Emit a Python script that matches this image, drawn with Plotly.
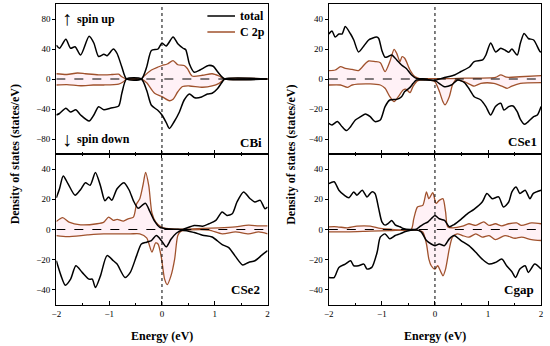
import plotly.graph_objects as go
from plotly.subplots import make_subplots

# ---------------- data (energy in eV, DOS in states/eV) ----------------
# CBi
cbi_tot_up_e = [-2.0,-1.94,-1.82,-1.73,-1.645,-1.54,-1.38,-1.29,-1.20,-1.10,-1.04,-0.92,-0.85,-0.76,-0.67,-0.39,-0.29,-0.20,-0.075,0.0,0.08,0.21,0.30,0.40,0.45,0.52,0.61,0.72,0.88,0.97,1.05,1.12,1.19,2.0]
cbi_tot_up = [45,41,53,41,43,32,57,48,30,33,31,40,34,16,0,0,16,38,40,48,44,56,47,41,39,20,9,12,18,17,10,4,0,0]
cbi_tot_dn_e = [-2.0,-1.94,-1.82,-1.73,-1.63,-1.54,-1.38,-1.29,-1.20,-1.10,-0.98,-0.82,-0.76,-0.67,-0.39,-0.29,-0.20,-0.075,0.0,0.08,0.14,0.23,0.33,0.42,0.52,0.62,0.75,0.86,0.95,1.05,1.13,1.19,2.0]
cbi_tot_dn = [-48,-46,-39,-44,-41,-48,-56,-48,-37,-41,-39,-36,-19,0,0,-15,-35,-42,-48,-58,-66,-57,-44,-28,-20,-25,-24,-20,-19,-13,-5,0,0]
cbi_c2p_up_e = [-2.0,-1.8,-1.6,-1.45,-1.2,-0.95,-0.82,-0.76,-0.67,-0.39,-0.36,-0.20,-0.075,0.0,0.1,0.21,0.30,0.42,0.48,0.57,0.77,0.95,1.08,1.19,2.0]
cbi_c2p_up = [7,6,8,7,5.5,6,6.5,3,0,0,2.5,12,16,18,20,24.5,19,18,14,4,5,7,4,0,0]
cbi_c2p_dn_e = [-2.0,-1.8,-1.54,-1.3,-1.10,-0.82,-0.73,-0.67,-0.39,-0.29,-0.14,0.0,0.14,0.21,0.30,0.39,0.52,0.77,0.95,1.08,1.19,2.0]
cbi_c2p_dn = [-8,-7.5,-9,-8,-8,-6.7,-3.6,0,0,-5,-19,-23.5,-29,-27,-17,-10,-9.3,-11,-9.3,-5.8,0,0]

# CSe1
cse1_tot_up_e = [-2.0,-1.94,-1.88,-1.81,-1.75,-1.69,-1.59,-1.53,-1.44,-1.34,-1.25,-1.19,-1.10,-1.06,-1.0,-0.94,-0.88,-0.815,-0.72,-0.63,-0.54,-0.44,-0.35,-0.23,-0.04,0.02,0.18,0.37,0.49,0.65,0.74,0.90,0.96,1.05,1.145,1.24,1.33,1.39,1.45,1.55,1.61,1.68,1.76,1.86,1.98,2.0]
cse1_tot_up = [30,32,28,30,30,35,30,26,18,22,26,27,28,27,19,14.5,15,16,12.7,9.3,7,2.7,0.4,0.2,-1,-0.7,1,2.7,5,8,11.6,12.7,16,24,18,20.5,19,17.8,20,16,24,30.4,27,26,18.2,18]
cse1_tot_dn_e = [-2.0,-1.94,-1.84,-1.75,-1.665,-1.59,-1.50,-1.40,-1.31,-1.22,-1.13,-1.03,-0.94,-0.85,-0.72,-0.63,-0.57,-0.47,-0.41,-0.35,-0.16,0.0,0.18,0.31,0.43,0.555,0.65,0.74,0.865,0.96,1.05,1.14,1.24,1.30,1.39,1.47,1.55,1.61,1.69,1.76,1.86,1.93,2.0]
cse1_tot_dn = [-29.6,-30.7,-28.4,-31.8,-34.4,-31.8,-27.3,-25.1,-23.3,-25.1,-28.4,-27.3,-18.4,-14,-13.6,-11.8,-8.4,-5.6,-2.9,-0.7,-0.7,-1.1,-5.1,-4,-0.7,-2.4,-6.9,-11.8,-14,-18.4,-24,-18.4,-16.2,-20.7,-18.4,-18,-21.8,-26.9,-30.2,-28.4,-25.1,-24,-18.4]
cse1_c2p_up_e = [-2.0,-1.88,-1.78,-1.69,-1.56,-1.44,-1.31,-1.25,-1.13,-1.03,-0.94,-0.85,-0.77,-0.72,-0.66,-0.62,-0.57,-0.47,-0.38,-0.29,0.0,0.27,0.55,1.14,1.24,1.35,1.6,2.0]
cse1_c2p_up = [5.6,6,8.2,7.1,6.4,5.6,10.4,12,11.6,10.9,4.9,11.6,19.8,17.1,11.6,14.9,13.8,6,1.6,0.3,0.3,0.3,0.6,1.1,2.8,1.2,1.5,2.2]
cse1_c2p_dn_e = [-2.0,-1.78,-1.65,-1.56,-1.22,-1.03,-0.94,-0.85,-0.77,-0.69,-0.60,-0.54,-0.47,-0.41,-0.32,-0.10,0.0,0.084,0.15,0.19,0.27,0.33,0.39,0.555,0.74,0.865,1.11,1.27,1.36,1.45,1.61,2.0]
cse1_c2p_dn = [-4,-4,-5.6,-4,-3.3,-4,-6.2,-11.8,-15.1,-11.8,-7.3,-6.9,-9.1,-4.7,-1.1,-0.7,-1.8,-8.4,-15.1,-17.3,-11.8,-4,-0.7,-1.8,-4.7,-2.9,-2.9,-4.9,-6.2,-4.7,-2.9,-2.4]

# CSe2
cse2_tot_up_e = [-2.0,-1.94,-1.87,-1.78,-1.645,-1.54,-1.45,-1.36,-1.26,-1.165,-1.08,-1.01,-0.95,-0.85,-0.72,-0.62,-0.54,-0.45,-0.36,-0.31,-0.23,-0.14,-0.04,0.02,0.14,0.27,0.39,0.61,0.77,0.89,1.02,1.14,1.23,1.33,1.42,1.545,1.67,1.76,1.86,1.95,2.0]
cse2_tot_up = [21,27,35.5,30.4,22.7,26.5,31,29.3,37.8,29,19,21.6,19.3,27,31,26,19,14,16.5,17.3,12,5.5,1.4,0.9,0.4,0.2,0,2.7,2.2,3.8,6,11.6,9.3,10.4,18.2,24.9,20.4,18.2,19.3,13.8,14.9]
cse2_tot_dn_e = [-2.0,-1.91,-1.83,-1.73,-1.63,-1.51,-1.38,-1.32,-1.26,-1.165,-1.04,-0.92,-0.85,-0.70,-0.60,-0.48,-0.39,-0.29,-0.20,-0.106,-0.012,0.08,0.17,0.27,0.38,0.61,0.77,0.95,1.14,1.265,1.39,1.53,1.64,1.76,1.89,2.0]
cse2_tot_dn = [-20.7,-30.7,-36.9,-32.9,-24,-28.4,-32.9,-32.9,-38.4,-30.7,-17.3,-20.7,-22.9,-31.8,-28.4,-17.3,-9.6,-8.4,-7.3,-4,-7.3,-11.5,-6.5,-2.5,-0.5,-2,-3.8,-5,-10,-12,-17.8,-23.5,-21.8,-20.7,-17,-14]
cse2_c2p_up_e = [-2.0,-1.88,-1.76,-1.54,-1.23,-1.10,-1.01,-0.92,-0.85,-0.73,-0.64,-0.54,-0.48,-0.42,-0.36,-0.31,-0.25,-0.19,-0.12,-0.02,0.08,0.39,0.77,1.08,1.39,1.64,1.83,2.0]
cse2_c2p_up = [5.3,7.8,4.9,3.1,3.8,4.9,8.2,6,6.7,5.6,7.1,8.2,17,20.4,29.3,37.8,29,11,5,1.8,0.7,0.2,0.7,1.1,1.8,2.9,2.4,2.4]
cse2_c2p_dn_e = [-2.0,-1.79,-1.41,-1.10,-0.60,-0.42,-0.29,-0.19,-0.12,-0.075,-0.012,0.05,0.10,0.17,0.24,0.30,0.36,0.52,0.89,1.14,1.39,1.64,1.83,2.0]
cse2_c2p_dn = [-4,-4.7,-3.6,-2.9,-2.9,-2.9,-5.5,-15,-8.9,-9.6,-18.4,-32.9,-36.5,-30.7,-19.6,-4,-1.1,-0.3,-0.4,-2.9,-1.6,-2.9,-1.6,-2.9]

# Cgap
cgap_tot_up_e = [-2.0,-1.90,-1.81,-1.71,-1.62,-1.53,-1.47,-1.37,-1.28,-1.19,-1.13,-1.06,-1.0,-0.94,-0.88,-0.815,-0.75,-0.66,-0.60,-0.47,-0.35,-0.29,-0.23,-0.13,-0.07,0.0,0.08,0.18,0.27,0.36,0.49,0.61,0.735,0.89,0.98,1.08,1.20,1.29,1.39,1.45,1.53,1.60,1.70,1.79,1.85,2.0]
cgap_tot_up = [30.4,31.6,26,22.7,21,24.9,22.7,26,21.6,24.9,23.8,13.8,5.1,2.9,4,6,3.1,1.8,0.7,0,0.2,1.8,3.3,5.1,7.1,9.3,7.1,6,1.8,3.3,6.7,10.4,13.3,18.2,23.8,20.4,21.6,14.9,18.2,24.9,28.2,23.8,26,20.4,23.8,26]
cgap_tot_dn_e = [-2.0,-1.90,-1.81,-1.69,-1.59,-1.53,-1.44,-1.34,-1.28,-1.19,-1.09,-1.03,-0.94,-0.85,-0.75,-0.66,-0.54,-0.35,-0.26,-0.16,-0.07,0.0,0.08,0.18,0.27,0.36,0.49,0.64,0.77,0.89,1.02,1.14,1.26,1.35,1.45,1.52,1.60,1.70,1.76,1.88,2.0]
cgap_tot_dn = [-31.8,-31.8,-25.1,-22.9,-20.7,-24,-24,-22.9,-26.2,-25.1,-15.1,-5.1,-2.9,-6.2,-4,-2.9,-1.1,-0.4,-1.6,-7.3,-9.6,-10.7,-9.6,-10.7,-6.2,-4,-7.3,-10.7,-15.1,-19.6,-22.9,-21.8,-19.6,-24,-28,-31.8,-26.2,-24,-28.4,-22.9,-26.2]
cgap_c2p_up_e = [-2.0,-1.84,-1.65,-1.47,-1.22,-1.03,-0.85,-0.45,-0.40,-0.33,-0.23,-0.16,-0.115,-0.04,0.02,0.08,0.15,0.20,0.24,0.33,0.52,0.64,0.77,0.92,1.02,1.14,1.26,1.39,1.54,1.63,1.82,2.0]
cgap_c2p_up = [1.8,1.8,1.1,2.2,2.2,0.7,0.2,0,7,14.9,16,24.9,20.4,24.4,17.3,19.3,20.4,11.6,1.8,1.1,2.2,3.8,2.7,5.1,2.7,3.8,2.4,3.8,4.4,2.7,4.4,3.8]
cgap_c2p_dn_e = [-2.0,-1.65,-1.22,-0.85,-0.35,-0.23,-0.16,-0.115,-0.07,0.0,0.05,0.115,0.15,0.20,0.27,0.33,0.42,0.52,0.64,0.77,0.89,1.02,1.14,1.32,1.51,1.63,1.82,2.0]
cgap_c2p_dn = [-1.6,-1.6,-1.1,-0.7,-0.4,-1.6,-9.6,-19.6,-24,-26.2,-24,-28.4,-30.7,-26.2,-12.9,-5.1,-2.9,-4,-5.1,-2.9,-5.1,-4,-6.7,-4,-5.8,-5.1,-6.7,-7.3]

panel_names = ["CBi", "CSe1", "CSe2", "Cgap"]
legend_names = ["total", "C 2p"]
y_ranges = [[-100, 100], [-50, 50], [-50, 50], [-50, 50]]
y_ticks = [[-80, -40, 0, 40, 80], [-40, -20, 0, 20, 40], [-40, -20, 0, 20, 40], [-40, -20, 0, 20, 40]]
x_ticks = [-2, -1, 0, 1, 2]

panels = [
    (cbi_tot_up_e, cbi_tot_up, cbi_tot_dn_e, cbi_tot_dn, cbi_c2p_up_e, cbi_c2p_up, cbi_c2p_dn_e, cbi_c2p_dn),
    (cse1_tot_up_e, cse1_tot_up, cse1_tot_dn_e, cse1_tot_dn, cse1_c2p_up_e, cse1_c2p_up, cse1_c2p_dn_e, cse1_c2p_dn),
    (cse2_tot_up_e, cse2_tot_up, cse2_tot_dn_e, cse2_tot_dn, cse2_c2p_up_e, cse2_c2p_up, cse2_c2p_dn_e, cse2_c2p_dn),
    (cgap_tot_up_e, cgap_tot_up, cgap_tot_dn_e, cgap_tot_dn, cgap_c2p_up_e, cgap_c2p_up, cgap_c2p_dn_e, cgap_c2p_dn),
]

# ---------------- style ----------------
FONT = "Liberation Serif, Times New Roman, serif"
BLACK = "#000000"
BROWN = "#A0522D"
PINK = "rgba(255,170,200,0.16)"
W, H = 550, 346

fig = make_subplots(rows=2, cols=2)

positions = [(1, 1), (1, 2), (2, 1), (2, 2)]
for i, (p, (r, c)) in enumerate(zip(panels, positions)):
    tu_e, tu, td_e, td, cu_e, cu, cd_e, cd = p
    for e, v in ((cu_e, cu), (cd_e, cd)):
        fig.add_trace(go.Scatter(x=e, y=v, mode="lines", fill="tozeroy", fillcolor=PINK,
                                 line=dict(color=BROWN, width=1.3, shape="spline", smoothing=0.7),
                                 name=legend_names[1], showlegend=False), row=r, col=c)
    for e, v in ((tu_e, tu), (td_e, td)):
        fig.add_trace(go.Scatter(x=e, y=v, mode="lines",
                                 line=dict(color=BLACK, width=1.5, shape="spline", smoothing=0.7),
                                 name=legend_names[0], showlegend=False), row=r, col=c)

def px_x(a, b):
    return [a / W, b / W]

def px_y(top, bottom):
    return [1 - bottom / H, 1 - top / H]

xdoms = [px_x(52, 266), px_x(328, 543), px_x(52, 266), px_x(328, 543)]
ydoms = [px_y(4, 154), px_y(4, 154), px_y(154, 305), px_y(154, 305)]

for i in range(4):
    sx = "" if i == 0 else str(i + 1)
    bottom = i >= 2
    fig.layout["xaxis" + sx].update(
        domain=xdoms[i], range=[-2, 2], tickvals=x_ticks, showticklabels=bottom,
        ticks="inside", ticklen=4, tickwidth=1, tickcolor=BLACK,
        minor=dict(dtick=0.5, ticks="inside", ticklen=2, tickcolor=BLACK),
        showline=True, linecolor=BLACK, linewidth=1.3, mirror="ticks" if bottom else True,
        showgrid=False, zeroline=False,
        tickfont=dict(family=FONT, size=9, color=BLACK))
    fig.layout["yaxis" + sx].update(
        domain=ydoms[i], range=y_ranges[i], tickvals=y_ticks[i],
        ticks="outside", ticklen=3, tickwidth=1, tickcolor=BLACK,
        showline=True, linecolor=BLACK, linewidth=1.3, mirror=True,
        showgrid=False, zeroline=False,
        tickfont=dict(family=FONT, size=9, color=BLACK))
    xr = "x" + sx
    yr = "y" + sx
    fig.add_shape(type="line", xref=xr, yref=yr, x0=-2, x1=2, y0=0, y1=0,
                  line=dict(color=BLACK, width=1, dash="dash"), layer="above")
    fig.add_shape(type="line", xref=xr, yref=yr + " domain", x0=0, x1=0, y0=0, y1=1,
                  line=dict(color=BLACK, width=1, dash="dot"), layer="above")

# panel labels
label_pos = [(0.985, 0.08), (0.99, 0.085), (0.975, 0.105), (0.975, 0.10)]
for i, name in enumerate(panel_names):
    sx = "" if i == 0 else str(i + 1)
    fig.add_annotation(text="<b>" + name + "</b>", xref="x" + sx + " domain", yref="y" + sx + " domain",
                       x=label_pos[i][0], y=label_pos[i][1], xanchor="right", yanchor="middle",
                       showarrow=False, font=dict(family=FONT, size=13, color=BLACK))

# manual legend (top-left panel)
for name, color, ypx in ((legend_names[0], BLACK, 16), (legend_names[1], BROWN, 32)):
    fig.add_shape(type="line", xref="paper", yref="paper", x0=205 / W, x1=233 / W,
                  y0=1 - ypx / H, y1=1 - ypx / H, line=dict(color=color, width=1.5))
    fig.add_annotation(text="<b>" + name + "</b>", xref="paper", yref="paper",
                       x=236 / W, y=1 - ypx / H, xanchor="left", yanchor="middle", showarrow=False,
                       font=dict(family=FONT, size=12, color=BLACK))

# spin labels
ann = [
    ("<b>↑</b>", 63, 18, 20, "center"), ("<b>spin up</b>", 71, 19, 12, "left"),
    ("<b>↓</b>", 63, 139, 20, "center"), ("<b>spin down</b>", 71, 139, 12, "left"),
]
for t, x, y, s, xa in ann:
    fig.add_annotation(text=t, xref="paper", yref="paper", x=x / W, y=1 - y / H,
                       xanchor=xa, yanchor="middle", showarrow=False,
                       font=dict(family=FONT, size=s, color=BLACK))

# axis titles
for xc in (159, 435.5):
    fig.add_annotation(text="<b>Energy (eV)</b>", xref="paper", yref="paper", x=xc / W, y=1 - 336 / H,
                       xanchor="center", yanchor="middle", showarrow=False,
                       font=dict(family=FONT, size=12, color=BLACK))
for xc in (10, 289):
    fig.add_annotation(text="<b>Density of states (states/eV)</b>", xref="paper", yref="paper",
                       x=xc / W, y=1 - 154.5 / H, xanchor="center", yanchor="middle",
                       textangle=-90, showarrow=False,
                       font=dict(family=FONT, size=12, color=BLACK))

fig.update_layout(
    width=W, height=H, margin=dict(l=0, r=0, t=0, b=0),
    paper_bgcolor="white", plot_bgcolor="white",
    showlegend=False,
)

fig.write_html("out.html", config={"displayModeBar": False},
               post_script="document.body.style.margin='0';document.body.style.padding='0';")
